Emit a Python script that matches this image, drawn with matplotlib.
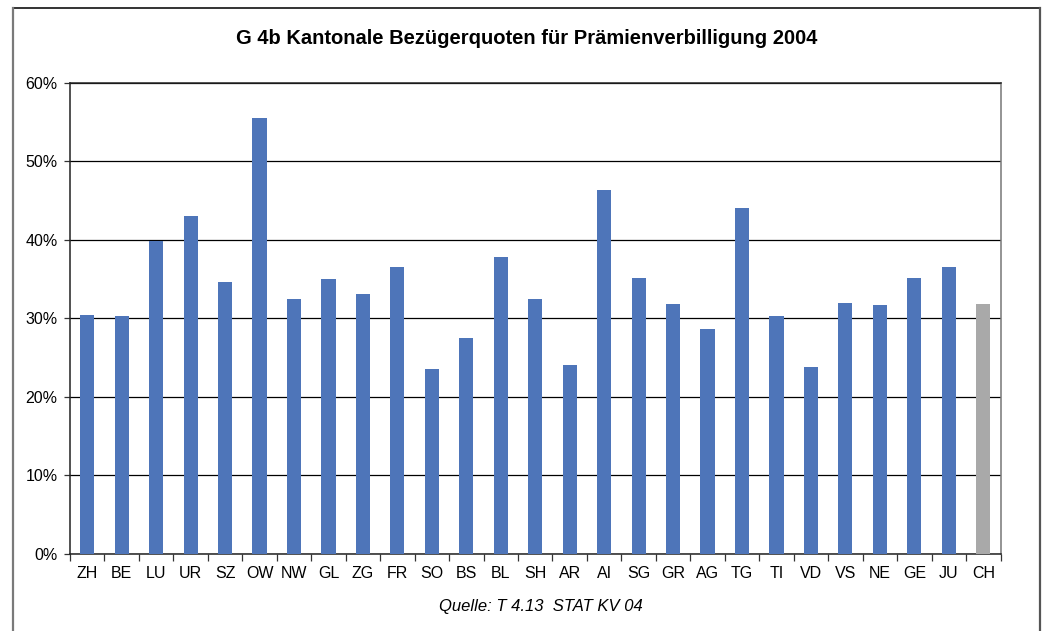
import numpy as np
import matplotlib
matplotlib.use("Agg")
import matplotlib.pyplot as plt
from matplotlib.lines import Line2D
from matplotlib.ticker import FixedLocator, NullFormatter, PercentFormatter

plt.rcParams["font.family"] = ["Liberation Sans", "DejaVu Sans"]

cantons = ["ZH", "BE", "LU", "UR", "SZ", "OW", "NW", "GL", "ZG", "FR", "SO", "BS", "BL", "SH",
           "AR", "AI", "SG", "GR", "AG", "TG", "TI", "VD", "VS", "NE", "GE", "JU", "CH"]
quote = [30.4, 30.25, 39.8, 43.1, 34.6, 55.6, 32.4, 35.0, 33.1, 36.5, 23.5, 27.45, 37.8, 32.4,
         24.0, 46.3, 35.1, 31.8, 28.6, 44.0, 30.25, 23.75, 31.9, 31.7, 35.1, 36.5, 31.8]
title = "G 4b Kantonale Bezügerquoten für Prämienverbilligung 2004"
source = "Quelle: T 4.13  STAT KV 04"

blue = "#4E75B9"
grey = "#A9A9A9"
colors = [grey if c == "CH" else blue for c in cantons]

W, H = 1045, 631
fig = plt.figure(figsize=(W / 100, H / 100), dpi=100)
ax = fig.add_axes([70 / W, 1 - 553.5 / H, 930.5 / W, 470.5 / H])

x = np.arange(len(cantons))
ax.bar(x, quote, width=0.41, color=colors, zorder=3)

ax.set_xlim(-0.5, len(cantons) - 0.5)
ax.set_ylim(0, 60)
ax.set_yticks(np.arange(0, 61, 10))
ax.yaxis.set_major_formatter(PercentFormatter(decimals=0))
ax.grid(axis="y", color="black", linewidth=0.9, zorder=1)

# labels at bar centres, tick marks between categories
ax.xaxis.set_major_locator(FixedLocator(np.arange(-0.5, len(cantons))))
ax.xaxis.set_major_formatter(NullFormatter())
ax.xaxis.set_minor_locator(FixedLocator(x))
ax.set_xticklabels(cantons, minor=True)
ax.tick_params(axis="x", which="major", direction="out", length=5, width=0.9, color="#333333")
ax.tick_params(axis="x", which="minor", length=0, pad=9, labelsize=11.5)
ax.tick_params(axis="y", direction="out", length=4, width=0.9, pad=5, labelsize=11.5, color="#333333")

for side in ["left", "bottom", "top"]:
    ax.spines[side].set_color("#222222")
    ax.spines[side].set_linewidth(1.1)
ax.spines["right"].set_color("#777777")
ax.spines["right"].set_linewidth(1.1)

fig.text(527 / W, 1 - 38 / H, title, ha="center", va="center", fontsize=14.5, fontweight="bold")
fig.text(541 / W, 1 - 606 / H, source, ha="center", va="center", fontsize=12, style="italic")

# outer frame, open at the bottom of the picture
l, r, t = 13 / W, 1040 / W, 1 - 8 / H
fig.add_artist(Line2D([l, r], [t, t], color="#333333", lw=1.4, transform=fig.transFigure))
fig.add_artist(Line2D([l, l], [t, -0.01], color="#7a7a7a", lw=1.6, transform=fig.transFigure))
fig.add_artist(Line2D([r, r], [t, -0.01], color="#555555", lw=1.6, transform=fig.transFigure))

fig.savefig("out.png", dpi=100)
